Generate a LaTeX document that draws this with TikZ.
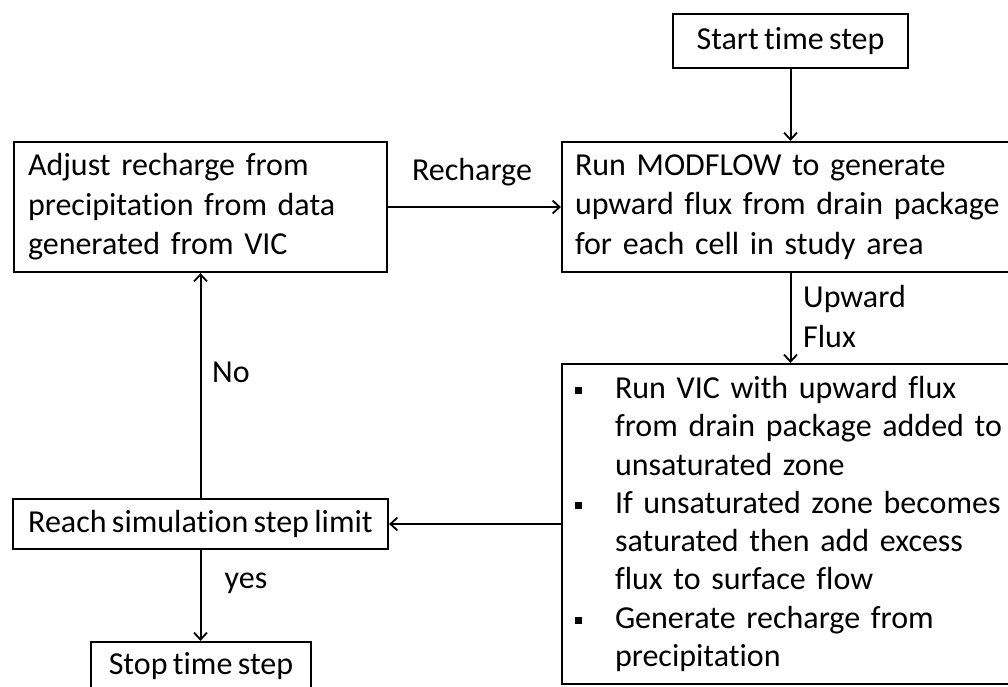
\documentclass[tikz,border=0pt]{standalone}
\usepackage{fontspec}
\setmainfont{Carlito}[Ligatures=NoCommon, WordSpace=0.75]
\usetikzlibrary{arrows.meta}
\newcommand{\bul}{\makebox[40pt][l]{\raisebox{4.5pt}{\rule{7pt}{7pt}}}}
\newcommand{\ind}{\hspace*{40pt}}
\begin{document}
\begin{tikzpicture}[x=1pt,y=-1pt,
  box/.style={draw, line width=2.2pt, rectangle, inner sep=0pt, font=\fontsize{32}{39.5}\selectfont},
  conn/.style={line width=2pt, -{Straight Barb[length=7pt,width=13pt,line width=1.8pt]}},
  lbl/.style={font=\fontsize{32}{40}\selectfont, inner sep=0pt}]
\useasboundingbox (0,0) rectangle (1008,687);
\clip (0,0) rectangle (1008,687);
\fill[white] (0,0) rectangle (1008,687);
\node[box, minimum width=235pt, minimum height=54pt] (start) at (790.5,41) {Start time step};
\node[box, minimum width=453pt, minimum height=130pt, text width=427pt, align=left] (modflow) at (788.5,207)
  {Run MODFLOW to generate\\upward flux from drain package\\for each cell in study area};
\node[box, minimum width=453pt, minimum height=320pt, text width=427pt, align=left, font=\fontsize{32}{38.3}\selectfont] (vic) at (788.5,524)
  {\bul Run VIC with upward flux\\
   \ind from drain package added to\\
   \ind unsaturated zone\\
   \bul If unsaturated zone becomes\\
   \ind saturated then add excess\\
   \ind flux to surface flow\\
   \bul Generate recharge from\\
   \ind precipitation};
\node[box, minimum width=373pt, minimum height=130pt, text width=345pt, align=left] (adjust) at (200.5,207)
  {Adjust recharge from\\precipitation from data\\generated from VIC};
\node[box, minimum width=375pt, minimum height=50pt] (reach) at (200.5,524) {Reach simulation step limit};
\node[box, minimum width=220pt, minimum height=48pt] (stop) at (201,666) {Stop time step};
\draw[conn] (start.south) -- (start.south |- modflow.north);
\draw[conn] (start.south |- modflow.south) -- (start.south |- vic.north);
\draw[conn] (adjust.east) -- (modflow.west);
\draw[conn] (vic.west) -- (reach.east);
\draw[conn] (reach.north) -- (adjust.south);
\draw[conn] (reach.south) -- (reach.south |- stop.north);
\node[lbl] (lrech) at (472,172) {Recharge};
\node[lbl] (lno) at (231,372) {No};
\node[lbl] (lyes) at (246,583) {yes};
\node[lbl, align=left, anchor=west] (lflux) at (803,317) {Upward\\Flux};
\end{tikzpicture}
\end{document}
